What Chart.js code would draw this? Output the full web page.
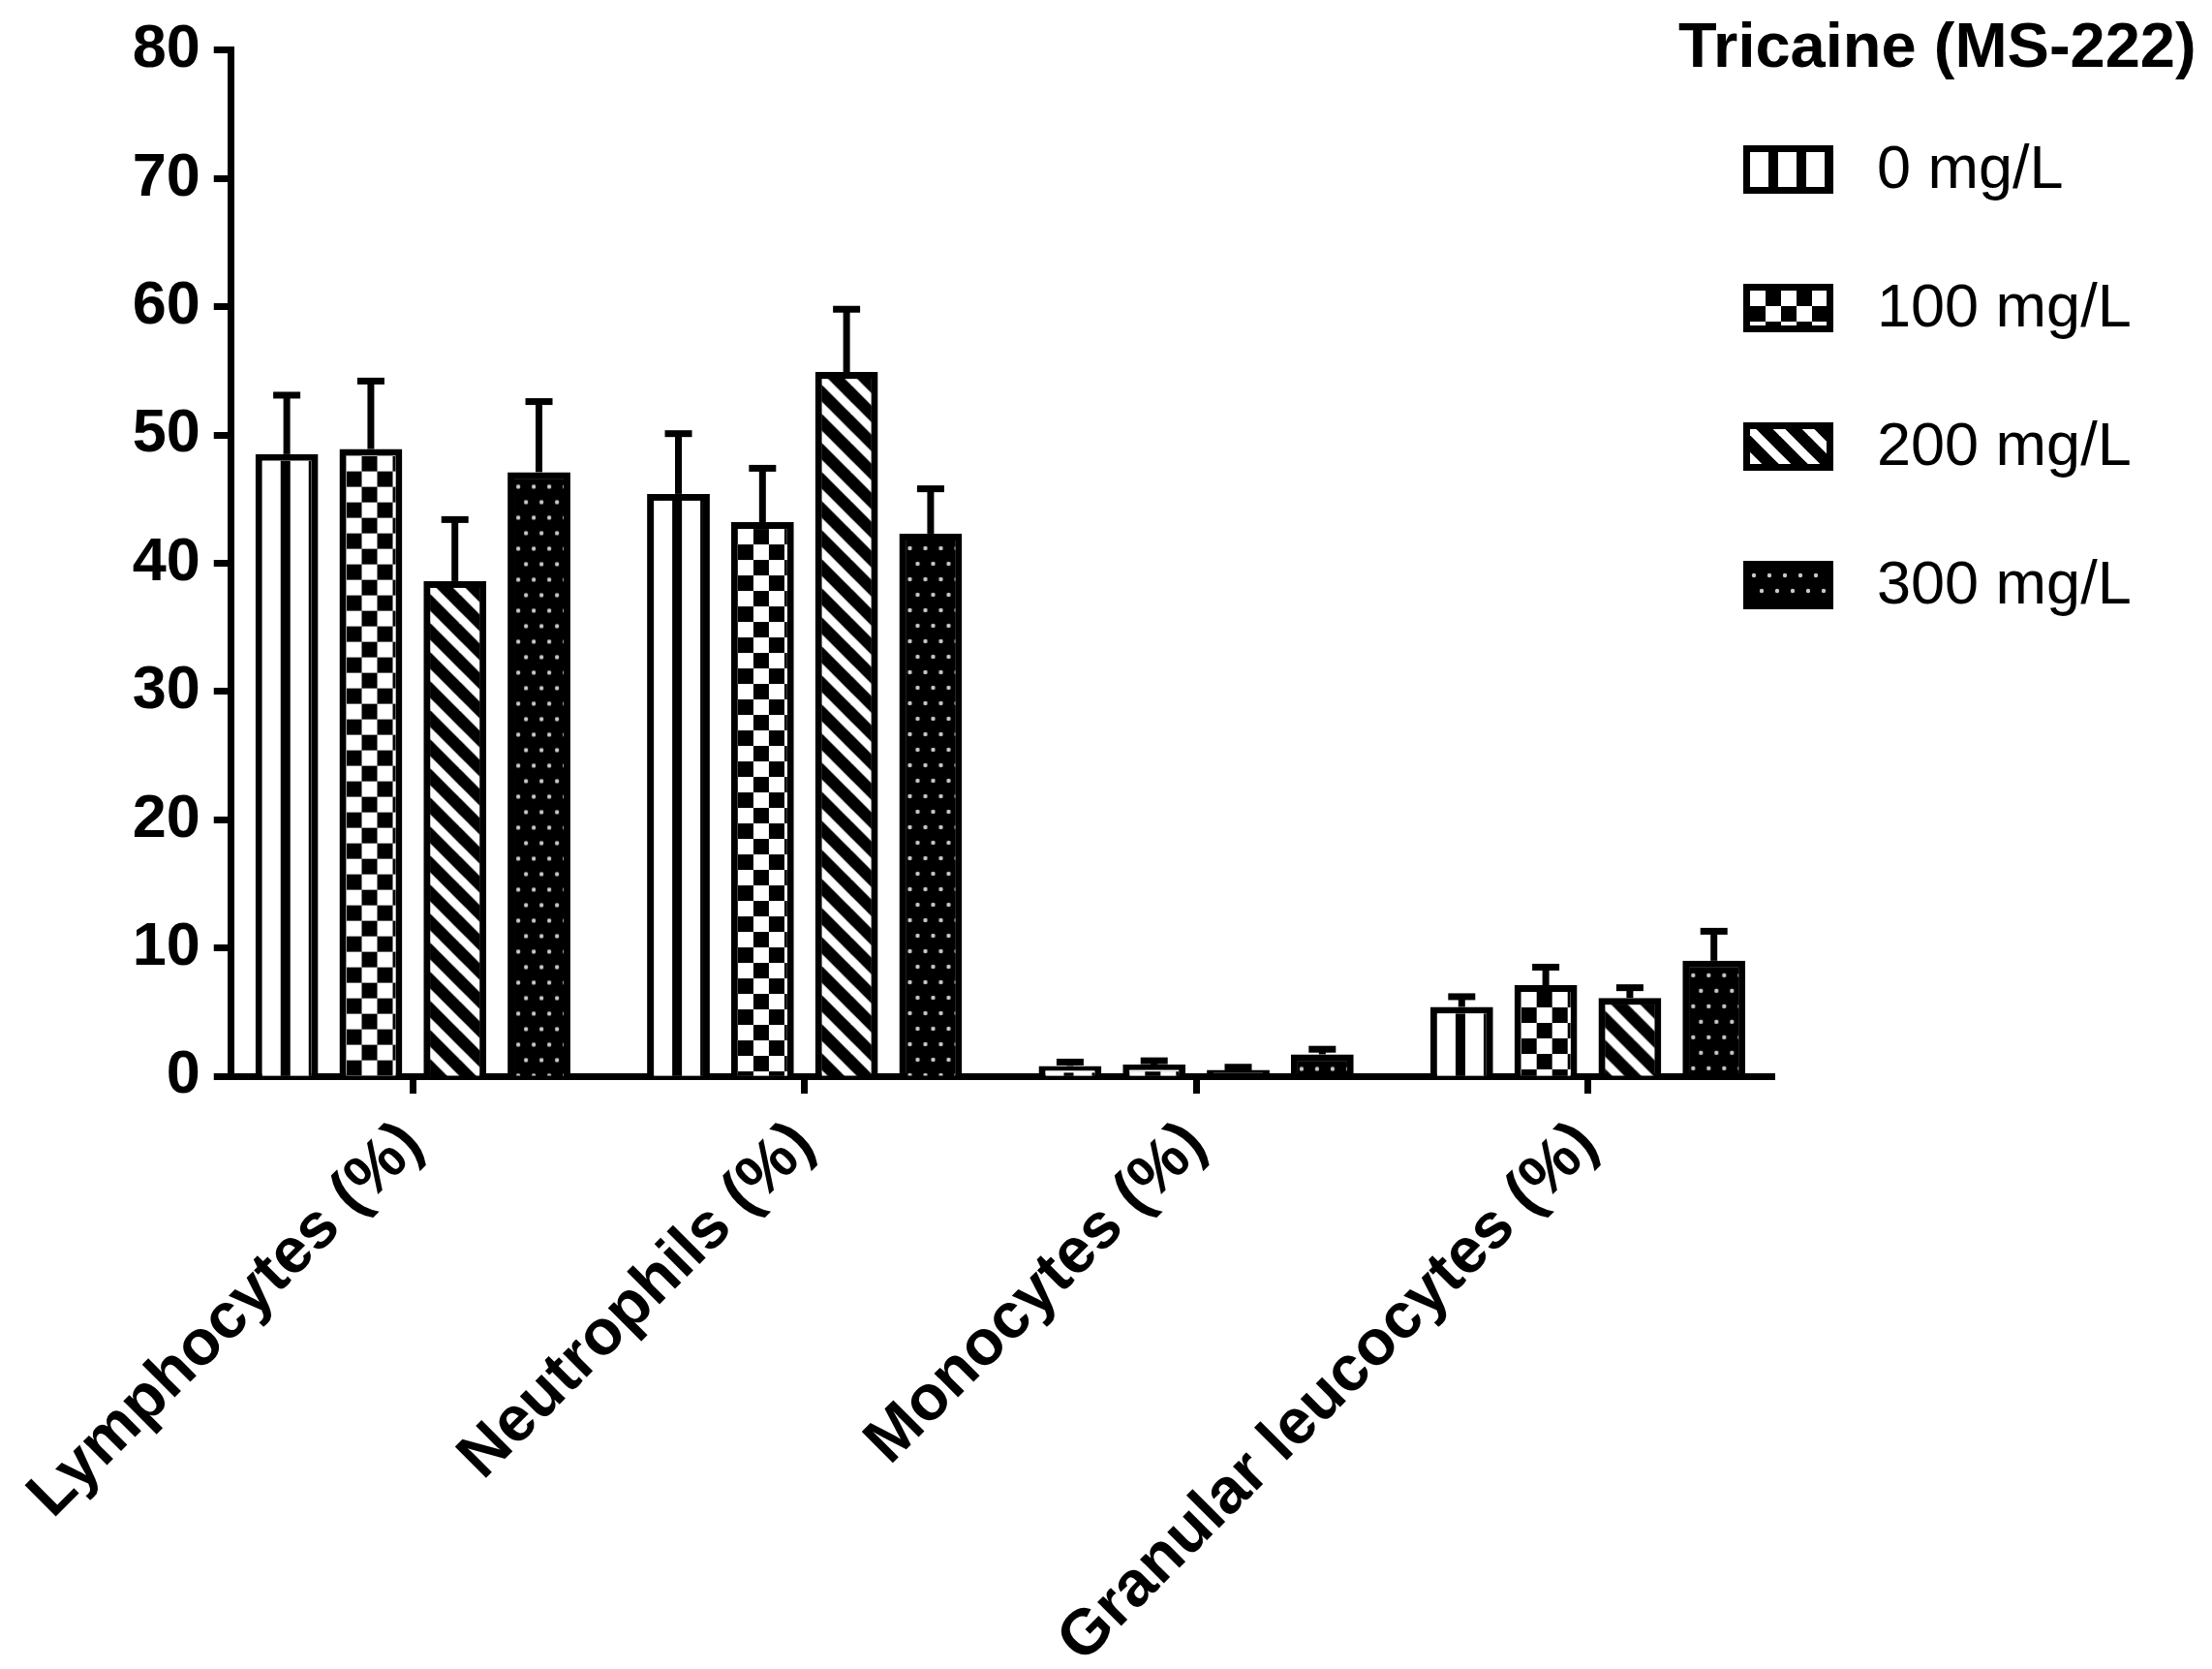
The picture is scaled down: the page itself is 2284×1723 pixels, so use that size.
<!DOCTYPE html>
<html>
<head>
<meta charset="utf-8">
<script src="https://cdn.jsdelivr.net/npm/chart.js@4.4.0/dist/chart.umd.min.js"></script>
<style>
  html, body { margin: 0; padding: 0; background: #fff; }
  canvas { display: block; }
</style>
</head>
<body>
<canvas id="barChart" width="2284" height="1723"></canvas>
<script>
// categories and series
const categories = ['Lymphocytes (%)', 'Neutrophils (%)', 'Monocytes (%)', 'Granular leucocytes (%)'];
const seriesNames = ['0 mg/L', '100 mg/L', '200 mg/L', '300 mg/L'];
const legendTitle = 'Tricaine (MS-222)';

const mean0   = [48.5, 45.4, 0.8, 5.4];
const mean100 = [48.9, 43.2, 0.9, 7.1];
const mean200 = [38.6, 54.9, 0.5, 6.1];
const mean300 = [47.1, 42.3, 1.7, 9.0];

// upper error bars
const err0   = [4.6, 4.7, 0.3, 0.8];
const err100 = [5.3, 4.2, 0.3, 1.4];
const err200 = [4.8, 4.9, 0.2, 0.8];
const err300 = [5.5, 3.5, 0.4, 2.3];

const yTicks = [0, 10, 20, 30, 40, 50, 60, 70, 80];

const FONT = "'Liberation Sans', Arial, sans-serif";
const LINE = 7; // thickness of every black line

// small canvas tiles used as fills
function makePattern(ctx, kind) {
  const c = document.createElement('canvas');
  const t = c.getContext('2d');
  if (kind === 'stripes') {
    c.width = 29; c.height = 4;
    t.fillStyle = '#fff'; t.fillRect(0, 0, 29, 4);
    t.fillStyle = '#000'; t.fillRect(19, 0, 10, 4);
  } else if (kind === 'checker') {
    c.width = 32; c.height = 32;
    t.fillStyle = '#fff'; t.fillRect(0, 0, 32, 32);
    t.fillStyle = '#000';
    t.fillRect(16, 0, 16, 16);
    t.fillRect(0, 16, 16, 16);
  } else if (kind === 'diag') {
    c.width = 30; c.height = 30;
    t.fillStyle = '#000'; t.fillRect(0, 0, 30, 30);
    t.strokeStyle = '#fff'; t.lineWidth = 9;
    for (let k = -1; k <= 1; k++) {
      t.beginPath();
      t.moveTo(-5, 30 * k - 5);
      t.lineTo(35, 30 * k + 35);
      t.stroke();
    }
  } else { // dots
    c.width = 16; c.height = 32;
    t.fillStyle = '#000'; t.fillRect(0, 0, 16, 32);
    t.fillStyle = '#c8c8c8';
    t.beginPath(); t.arc(4, 8, 2.2, 0, Math.PI * 2); t.fill();
    t.beginPath(); t.arc(12, 24, 2.2, 0, Math.PI * 2); t.fill();
  }
  return ctx.createPattern(c, 'repeat');
}

const patternKinds = ['stripes', 'checker', 'diag', 'dots'];
const means = [mean0, mean100, mean200, mean300];
const errors = [err0, err100, err200, err300];

function fillInner(ctx, kind, left, top, w, h) {
  if (w <= 0 || h <= 0) return;
  const pat = makePattern(ctx, kind);
  pat.setTransform(new DOMMatrix().translateSelf(left, top));
  ctx.save();
  ctx.fillStyle = pat;
  ctx.fillRect(left, top, w, h);
  ctx.restore();
}

// patterned bar insides, error bars, legend
const extrasPlugin = {
  id: 'extras',
  afterDatasetsDraw(chart) {
    const ctx = chart.ctx;
    const yScale = chart.scales.y;
    chart.data.datasets.forEach((ds, di) => {
      const meta = chart.getDatasetMeta(di);
      meta.data.forEach((bar, i) => {
        const { x, y, base, width } = bar.getProps(['x', 'y', 'base', 'width'], true);
        const left = x - width / 2;
        fillInner(ctx, patternKinds[di], left + LINE, y + LINE, width - 2 * LINE, base - y - LINE);

        // upper error bar
        const top = yScale.getPixelForValue(ds.data[i] + errors[di][i]);
        ctx.save();
        ctx.strokeStyle = '#000';
        ctx.lineWidth = LINE;
        ctx.beginPath();
        ctx.moveTo(x, y);
        ctx.lineTo(x, top);
        ctx.stroke();
        ctx.beginPath();
        ctx.moveTo(x - 14, top);
        ctx.lineTo(x + 14, top);
        ctx.stroke();
        ctx.restore();
      });
    });
  },
  afterDraw(chart) {
    const ctx = chart.ctx;
    ctx.save();
    ctx.fillStyle = '#000';
    ctx.textBaseline = 'alphabetic';
    ctx.textAlign = 'left';
    ctx.font = 'bold 65px ' + FONT;
    ctx.fillText(legendTitle, 1733, 69);
    ctx.font = '63px ' + FONT;
    ctx.textBaseline = 'middle';
    seriesNames.forEach((name, i) => {
      const bx = 1800, by = 150 + i * 143, bw = 93, bh = 50;
      ctx.fillStyle = '#000';
      ctx.fillRect(bx, by, bw, bh);
      fillInner(ctx, patternKinds[i], bx + LINE, by + LINE, bw - 2 * LINE, bh - 2 * LINE);
      ctx.fillStyle = '#000';
      ctx.fillText(name, 1938, by + bh / 2 + 2);
    });
    ctx.restore();
  }
};

const datasets = seriesNames.map((name, i) => ({
  label: name,
  data: means[i],
  backgroundColor: i < 2 ? '#fff' : '#000',
  borderColor: '#000',
  borderWidth: LINE,
  categoryPercentage: 0.8586,
  barPercentage: 0.747
}));

const ctx = document.getElementById('barChart').getContext('2d');
new Chart(ctx, {
  type: 'bar',
  data: {
    labels: categories.map((c, i) => i),
    datasets: datasets
  },
  options: {
    responsive: false,
    animation: false,
    layout: { padding: { top: 51, right: 452, bottom: 0, left: 0 } },
    plugins: {
      legend: { display: false },
      tooltip: { enabled: false }
    },
    scales: {
      x: {
        type: 'linear',
        offset: false,
        min: -0.4638,
        max: 3.476,
        afterBuildTicks: (scale) => { scale.ticks = categories.map((c, i) => ({ value: i })); },
        afterFit: (scale) => { scale.height = 612; },
        border: { display: true, color: '#000', width: LINE },
        grid: {
          display: true,
          drawOnChartArea: false,
          drawTicks: true,
          tickLength: 18,
          tickWidth: LINE,
          tickColor: '#000',
          offset: false
        },
        ticks: {
          autoSkip: false,
          minRotation: 45,
          maxRotation: 45,
          padding: 14,
          color: '#000',
          font: { family: FONT, size: 66, weight: 'bold' },
          callback: (v) => categories[v]
        }
      },
      y: {
        min: 0,
        max: 80,
        afterBuildTicks: (scale) => { scale.ticks = yTicks.map(v => ({ value: v })); },
        afterFit: (scale) => { scale.width = 235; },
        border: { display: true, color: '#000', width: LINE },
        grid: {
          display: true,
          drawOnChartArea: false,
          drawTicks: true,
          tickLength: 18,
          tickWidth: LINE,
          tickColor: '#000'
        },
        ticks: {
          padding: 14,
          color: '#000',
          font: { family: FONT, size: 63, weight: 'bold' }
        }
      }
    }
  },
  plugins: [extrasPlugin]
});
</script>
</body>
</html>
